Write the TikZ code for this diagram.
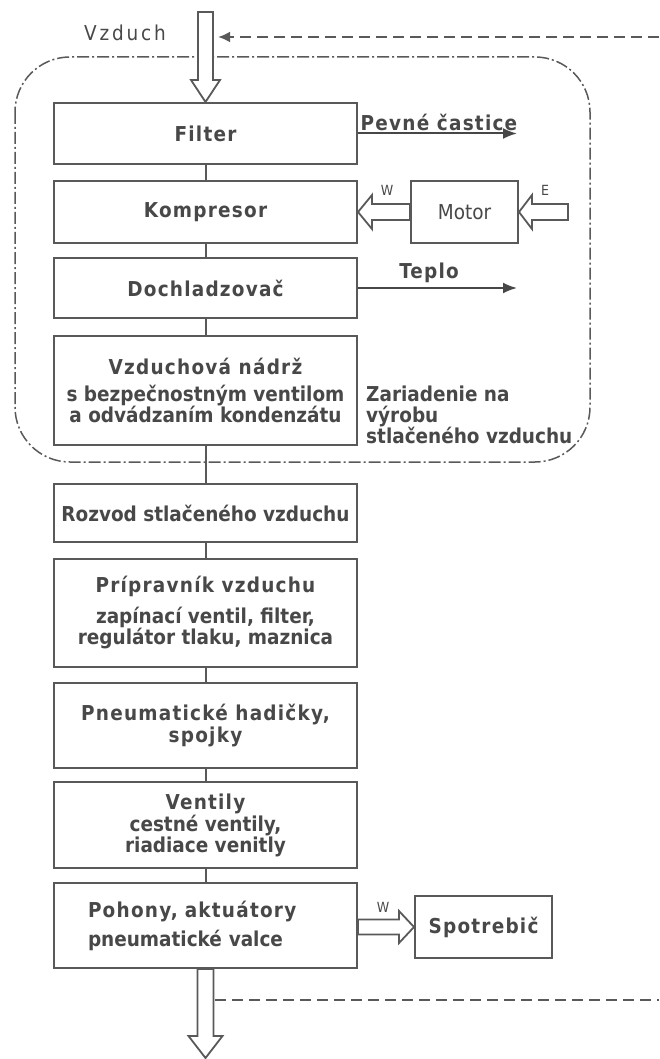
\documentclass[tikz,border=0pt]{standalone}
\usepackage{fontspec}
\setmainfont{DejaVu Sans Condensed}[BoldFont={DejaVu Sans Condensed Bold}]
\newfontfamily\ttl{DejaVu Sans Condensed Bold}[LetterSpace=6]
\newfontfamily\wide{DejaVu Sans Condensed}[LetterSpace=14]
\usetikzlibrary{calc,arrows.meta}
\definecolor{txtgray}{HTML}{484848}
\definecolor{linegray}{HTML}{595959}
\tikzset{
  unit/.style={draw=linegray, line width=2pt, fill=white, rectangle, minimum width=303pt,
    align=center, text=txtgray, font=\fontsize{20.5}{21}\selectfont\bfseries, inner sep=0pt},
  lbl/.style={text=txtgray, font=\fontsize{20.5}{21}\selectfont\bfseries, inner sep=0pt},
  small/.style={text=txtgray, font=\fontsize{14}{14}\selectfont, inner sep=0pt},
  flow/.style={draw=linegray, line width=2pt},
  hollow/.style={draw=linegray, line width=1.8pt, fill=white, line join=miter},
  feedback/.style={draw=linegray, line width=2.8pt, dash pattern=on 11pt off 6pt},
  outarrow/.style={draw=linegray!80!black, line width=2pt, -{Latex[length=14pt,width=11pt]}},
  plant/.style={draw=linegray, line width=1.5pt, rounded corners=55pt,
    dash pattern=on 12pt off 3pt on 2pt off 3pt},
}
% hollow block arrow: from, to, shaft half width, head half width, head length
\newcommand{\hollowarrow}[5]{%
  \coordinate (ha-base) at ($(#2)!#5!(#1)$);
  \draw[hollow] ($(#1)!#3!90:(#2)$) -- ($(ha-base)!#3!90:(#2)$)
    -- ($(ha-base)!#4!90:(#2)$) -- (#2) -- ($(ha-base)!#4!-90:(#2)$)
    -- ($(ha-base)!#3!-90:(#2)$) -- ($(#1)!#3!-90:(#2)$) -- cycle;
}
\begin{document}
\begin{tikzpicture}[x=1pt,y=-1pt]
  \useasboundingbox (0,0) rectangle (659,1059);

  % compressed air plant
  \draw[plant] (15,57) rectangle (590,462);

  % main chain
  \node[unit, minimum height=61pt] (filter) at (205.5,133.5) {\ttl Filter};
  \node[unit, minimum height=62pt] (kompr) at (205.5,212) {\ttl Kompresor};
  \node[unit, minimum height=60pt] (dochl) at (205.5,288) {\ttl Dochladzovač};
  \node[unit, minimum height=109pt] (nadrz) at (205.5,390.5)
    {{\ttl Vzduchová nádrž}\\[6pt] s bezpečnostným ventilom\\ a odvádzaním kondenzátu};
  \node[unit, minimum height=58pt] (rozvod) at (205.5,513) {Rozvod stlačeného vzduchu};
  \node[unit, minimum height=108pt] (pripr) at (205.5,613)
    {{\ttl Prípravník vzduchu}\\[10pt] zapínací ventil, filter,\\ regulátor tlaku, maznica};
  \node[unit, minimum height=85pt] (hadic) at (205.5,725.5)
    {{\ttl Pneumatické hadičky,}\\[1pt] {\ttl spojky}};
  \node[unit, minimum height=86pt] (ventil) at (205.5,825)
    {{\ttl Ventily}\\[1pt] cestné ventily,\\ riadiace venitly};
  \node[unit, minimum height=85pt, minimum width=0pt, text width=235pt, align=left,
    inner xsep=34pt] (pohon) at (205.5,925.5)
    {{\ttl Pohony, aktuátory}\\[8pt] pneumatické valce};

  \node[unit, minimum width=107pt, minimum height=62pt] (motor) at (464.5,212) {\mdseries Motor};
  \node[unit, minimum width=137pt, minimum height=62pt] (spotr) at (483.5,927) {\ttl Spotrebič};

  \foreach \a/\b in {filter/kompr, kompr/dochl, dochl/nadrz, nadrz/rozvod,
    rozvod/pripr, pripr/hadic, hadic/ventil, ventil/pohon}
    \draw[flow] (\a) -- (\b);

  % air in and out
  \coordinate (airin) at (205.5,12);
  \coordinate (airout) at (205.5,1058);
  \hollowarrow{airin}{filter.north}{7.5pt}{14.5pt}{22pt}
  \hollowarrow{pohon.south}{airout}{8pt}{17pt}{22pt}
  \node[lbl] (vzduch) at (125,33) {\mdseries\wide Vzduch};

  % feedback
  \coordinate (fbtop) at (659,37);
  \coordinate (fbin) at (218,37);
  \coordinate (fbout) at (215,1000);
  \coordinate (fbbot) at (659,1000);
  \draw[feedback, -{Latex[length=12pt,width=11pt]}] (fbtop) -- (fbin);
  \draw[feedback] (fbout) -- (fbbot);

  % energy
  \coordinate (ein) at (568,212);
  \hollowarrow{ein}{motor.east}{8pt}{17pt}{13pt}
  \hollowarrow{motor.west}{kompr.east}{8pt}{17pt}{14pt}
  \hollowarrow{pohon.east |- spotr.west}{spotr.west}{7.5pt}{16pt}{15pt}
  \node[small] (elbl) at (545,190) {E};
  \node[small] (wlbl) at (387,190) {W};
  \node[small] (wlbl2) at (383,907) {W};

  % outputs
  \coordinate (pevne) at (517,133.5);
  \coordinate (teplo) at (517,288);
  \draw[outarrow] (filter.east) -- (pevne);
  \draw[outarrow] (dochl.east) -- (teplo);
  \node[lbl] (pevnelbl) at (439,122) {\ttl Pevné častice};
  \node[lbl] (teplolbl) at (429,273) {\ttl Teplo};

  \node[lbl, align=left, anchor=north west] (zariad) at (366,386)
    {Zariadenie na\\ výrobu\\ stlačeného vzduchu};
\end{tikzpicture}
\end{document}
